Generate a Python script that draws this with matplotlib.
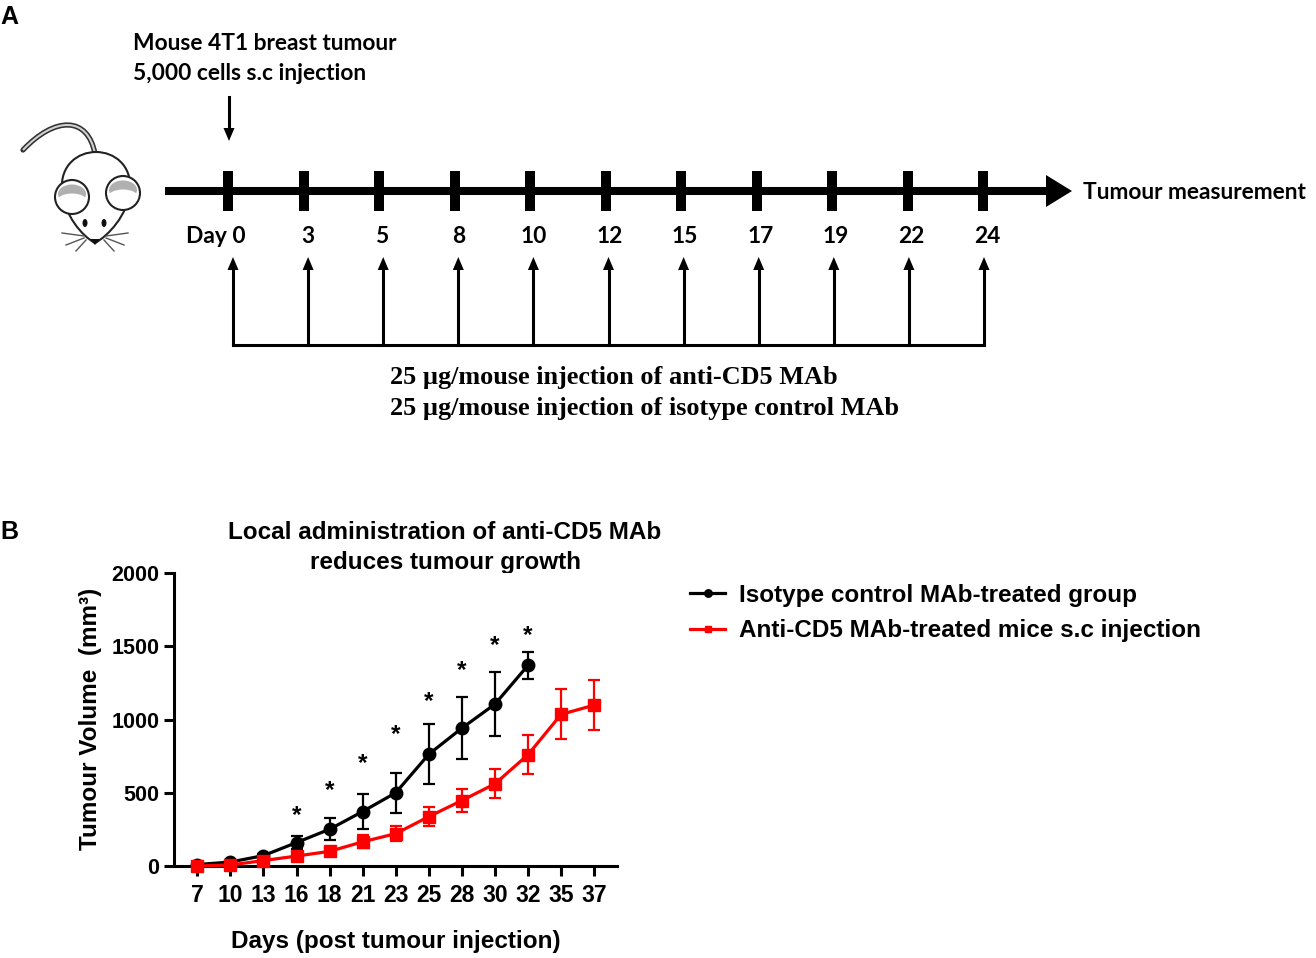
import matplotlib
matplotlib.use('Agg')
import matplotlib.pyplot as plt
import numpy as np
from matplotlib.patches import Rectangle, Polygon, Circle, Ellipse, PathPatch
from matplotlib.path import Path

plt.rcParams['font.family'] = ['Liberation Sans', 'DejaVu Sans']
plt.rcParams['font.weight'] = 'bold'

# panel A: treatment / measurement schedule (days)
sched_days = [0, 3, 5, 8, 10, 12, 15, 17, 19, 22, 24]

# panel B: tumour volume (mm3), mean and error
days = [7, 10, 13, 16, 18, 21, 23, 25, 28, 30, 32, 35, 37]
iso_mean = [10, 27, 71, 160, 251, 372, 500, 763, 941, 1105, 1370]
iso_err = [5, 8, 12, 45, 74, 121, 136, 206, 214, 216, 92]
cd5_mean = [0, 7, 37, 68, 100, 165, 221, 337, 447, 561, 760, 1035, 1098]
cd5_err = [3, 5, 10, 15, 18, 45, 52, 63, 77, 100, 133, 170, 171]
star_days = [16, 18, 21, 23, 25, 28, 30, 32]
star_height = [395, 564, 747, 950, 1174, 1386, 1553, 1626]

W, H = 1316, 958
fig = plt.figure(figsize=(W / 100, H / 100), dpi=100)

# sketch layer in pixel coordinates
sk = fig.add_axes([0, 0, 1, 1])
sk.set_xlim(0, W)
sk.set_ylim(H, 0)
sk.axis('off')

lato = dict(family=['Lato', 'DejaVu Sans'], weight='bold', fontsize=16.4)
serif = dict(family=['Liberation Serif', 'DejaVu Serif'], weight='bold', fontsize=18.9)

sk.text(0, 24, 'A', fontsize=18, va='baseline')
sk.text(0, 539, 'B', fontsize=18, va='baseline')

# ---- mouse ----
tail = Path([(95, 154), (88, 116), (55, 116), (23, 150)],
            [Path.MOVETO, Path.CURVE4, Path.CURVE4, Path.CURVE4])
sk.add_patch(PathPatch(tail, fill=False, ec='#333333', lw=3.8, capstyle='round'))
sk.add_patch(PathPatch(tail, fill=False, ec='#d0d0d0', lw=1.5))
body = Path([(95, 243), (82, 236), (64, 215), (62, 190), (60, 165), (78, 152),
             (96, 152), (114, 152), (132, 165), (130, 190), (128, 215),
             (108, 236), (95, 243), (95, 243)],
            [Path.MOVETO] + [Path.CURVE4] * 12 + [Path.CLOSEPOLY])
sk.add_patch(PathPatch(body, fc='white', ec='#222222', lw=1.5))
for ex, ey in [(72, 197), (123, 193)]:
    sk.add_patch(Circle((ex, ey), 17, fc='white', ec='#222222', lw=1.5))
    sk.add_patch(Ellipse((ex, ey - 3), 28, 19, fc='#b0b0b0', ec='none'))
    sk.add_patch(Ellipse((ex, ey + 4), 30, 15, fc='white', ec='none'))
for ex in [85, 104]:
    sk.add_patch(Ellipse((ex, 223), 5, 8, fc='#111111', ec='none'))
sk.add_patch(Polygon([[90, 239], [100, 239], [95, 245]], closed=True, fc='#111111'))
for (x0, y0), (x1, y1) in [((84, 236), (62, 233)), ((84, 238), (66, 245)), ((86, 240), (76, 251))]:
    sk.plot([x0, x1], [y0, y1], color='#555555', lw=1)
    sk.plot([190 - x0, 190 - x1], [y0, y1], color='#555555', lw=1)

# ---- timeline ----
tl_y = 191
tick_x = np.linspace(228, 983, len(sched_days))
sk.plot([165, 1050], [tl_y, tl_y], color='k', lw=5.8, solid_capstyle='butt')
sk.add_patch(Polygon([[1046, tl_y - 16], [1072, tl_y], [1046, tl_y + 16]], closed=True, fc='k'))
for x in tick_x:
    sk.add_patch(Rectangle((x - 5, tl_y - 20), 10, 40, fc='k'))
for i, (x, d) in enumerate(zip(tick_x, sched_days)):
    if i == 0:
        sk.text(x + 18, 243, f'Day {d}', ha='right', va='baseline', **lato)
    else:
        sk.text(x + 4, 243, str(d), ha='center', va='baseline', **lato)
sk.text(1083, 199, 'Tumour measurement', ha='left', va='baseline', **lato)

# tumour injection arrow
sk.text(133, 50, 'Mouse 4T1 breast tumour', ha='left', va='baseline', **lato)
sk.text(133, 80, '5,000 cells s.c injection', ha='left', va='baseline', **lato)
sk.plot([229, 229], [97, 130], color='k', lw=2.2)
sk.add_patch(Polygon([[223.5, 128], [229, 141], [234.5, 128]], closed=True, fc='k'))

# antibody injection arrows
arr_x = np.linspace(233, 984, len(sched_days))
base_y = 345
sk.plot([arr_x[0], arr_x[-1]], [base_y, base_y], color='k', lw=2.2, solid_capstyle='projecting')
for x in arr_x:
    sk.plot([x, x], [base_y, 268], color='k', lw=2.2, solid_capstyle='projecting')
    sk.add_patch(Polygon([[x - 5.5, 270], [x, 257], [x + 5.5, 270]], closed=True, fc='k'))
sk.text(390, 384, '25 µg/mouse injection of anti-CD5 MAb', ha='left', va='baseline', **serif)
sk.text(390, 415, '25 µg/mouse injection of isotype control MAb', ha='left', va='baseline', **serif)

# ---- panel B chart ----
ax = fig.add_axes([174 / W, 1 - 866 / H, 443 / W, 293 / H])
xi = np.arange(len(days))
n_iso = len(iso_mean)
ax.errorbar(xi[:n_iso], iso_mean, yerr=iso_err, fmt='none', ecolor='k',
            elinewidth=1.6, capsize=4, capthick=1.6, clip_on=False, zorder=3)
ax.errorbar(xi, cd5_mean, yerr=cd5_err, fmt='none', ecolor='red',
            elinewidth=1.6, capsize=4, capthick=1.6, clip_on=False, zorder=3)
ax.plot(xi[:n_iso], iso_mean, color='k', lw=2.3, marker='o', ms=9,
        label='Isotype control MAb-treated group', clip_on=False, zorder=4)
ax.plot(xi, cd5_mean, color='red', lw=2.3, marker='s', ms=8,
        label='Anti-CD5 MAb-treated mice s.c injection', clip_on=False, zorder=4)
for d, h in zip(star_days, star_height):
    ax.annotate('*', xy=(days.index(d), h), xytext=(0, -10), textcoords='offset points',
                ha='center', va='baseline', fontsize=17.5)

ax.set_xlim(-0.705, 12.69)
ax.set_ylim(0, 2000)
ax.set_xticks(xi)
ax.set_xticklabels([str(d) for d in days])
ax.set_yticks([0, 500, 1000, 1500, 2000])
for s in ['top', 'right']:
    ax.spines[s].set_visible(False)
for s in ['left', 'bottom']:
    ax.spines[s].set_linewidth(2.2)
ax.tick_params(axis='both', width=2.2, length=7, direction='out')
ax.tick_params(axis='x', pad=6, labelsize=16.5)
ax.tick_params(axis='y', pad=3.5, labelsize=15.5)

ax.legend(loc='upper left', bbox_to_anchor=(690 / W, 1 - 584 / H), bbox_transform=fig.transFigure,
          frameon=False, fontsize=17.5, handlelength=1.45, handletextpad=0.55,
          labelspacing=0.5, borderpad=0, borderaxespad=0, markerscale=0.6)

sk.text(445, 539, 'Local administration of anti-CD5 MAb', ha='center', va='baseline', fontsize=17.5)
sk.text(445, 569, 'reduces tumour growth', ha='center', va='baseline', fontsize=17.5)
sk.text(396, 948, 'Days (post tumour injection)', ha='center', va='baseline', fontsize=17.5)
sk.text(97, 719, 'Tumour Volume  (mm³)', ha='center', va='baseline', rotation=90,
        rotation_mode='anchor', fontsize=17.5)

fig.savefig('out.png', dpi=100)
